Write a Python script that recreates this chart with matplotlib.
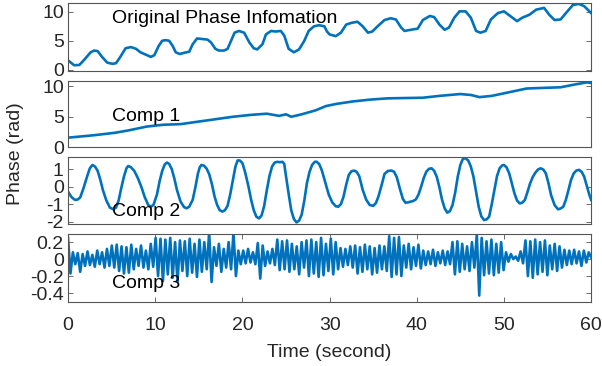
import numpy as np
import matplotlib
matplotlib.use('Agg')
import matplotlib.pyplot as plt

plt.rcParams['font.family'] = ['Liberation Sans', 'DejaVu Sans']
plt.rcParams['axes.unicode_minus'] = False

# original phase (time, value)
t_orig = [0.0, 0.7, 1.3, 1.8, 2.6, 3.0, 3.4, 3.9, 4.5, 5.1, 5.5, 6.0, 6.6, 7.2, 7.8, 8.3, 8.9,
          9.5, 9.9, 10.4, 10.8, 11.2, 11.6, 12.0, 12.35, 12.8, 13.3, 13.9, 14.3, 14.8, 15.4,
          16.0, 16.4, 16.9, 17.3, 17.9, 18.3, 18.7, 19.1, 19.6, 20.2, 20.8, 21.3, 21.7, 22.3,
          22.7, 23.3, 23.8, 24.4, 24.8, 25.3, 25.9, 26.5, 27.1, 27.6, 28.2, 28.8, 29.4, 29.7,
          30.0, 30.7, 31.3, 31.9, 32.5, 33.2, 33.8, 34.4, 34.9, 35.5, 36.3, 37.0, 37.6, 38.2,
          38.6, 39.3, 40.1, 40.7, 41.5, 42.0, 42.6, 43.2, 43.7, 44.3, 44.9, 45.6, 46.2, 46.8,
          47.3, 47.9, 48.5, 49.3, 50.0, 50.8, 51.5, 52.1, 52.9, 53.7, 54.6, 55.2, 55.8, 56.5,
          57.1, 57.9, 58.6, 59.2, 60.0]
orig = [1.6, 0.75, 0.8, 1.6, 3.0, 3.3, 3.2, 2.2, 1.2, 1.0, 1.1, 2.2, 3.7, 3.9, 3.6, 3.0, 2.6,
        2.2, 2.5, 4.1, 5.0, 5.1, 5.0, 4.1, 3.0, 2.7, 2.9, 3.1, 4.4, 5.4, 5.3,
        5.2, 4.7, 3.6, 3.3, 3.3, 3.6, 5.0, 6.4, 6.7, 6.4, 4.7, 3.7, 3.5, 4.4,
        6.1, 6.7, 6.6, 6.7, 5.9, 3.6, 3.0, 3.5, 5.0, 6.7, 7.5, 7.7, 7.5, 6.6,
        6.1, 5.8, 6.4, 7.8, 8.1, 8.3, 7.5, 6.4, 6.6, 7.5, 8.6, 8.9, 8.7, 7.3,
        6.7, 6.9, 7.1, 8.6, 9.3, 9.1, 7.8, 6.9, 7.3, 9.0, 10.1, 10.1, 9.0, 6.7,
        6.4, 6.7, 8.7, 9.8, 10.1, 9.2, 8.4, 9.0, 9.5, 10.4, 10.7, 9.5, 8.6, 8.7,
        9.8, 11.2, 11.4, 11.0, 9.8]

# comp 1 (slow trend)
t_c1 = [0.0, 3.0, 5.4, 7.0, 9.0, 10.9, 12.9, 14.9, 16.9, 18.9, 20.9, 22.8, 24.2, 25.0, 25.6,
        26.8, 28.4, 29.6, 30.8, 32.7, 34.7, 36.7, 38.7, 40.7, 42.6, 45.0, 46.2, 47.2, 48.6,
        50.6, 52.6, 54.5, 56.5, 58.1, 59.5, 60.0]
comp1 = [1.6, 2.0, 2.4, 2.8, 3.4, 3.7, 3.8, 4.2, 4.6, 5.0, 5.3, 5.5, 5.15, 5.4, 5.0,
         5.4, 6.05, 6.75, 7.1, 7.5, 7.8, 8.0, 8.05, 8.1, 8.4, 8.7, 8.55, 8.2, 8.4,
         9.0, 9.6, 9.7, 9.8, 10.25, 10.6, 10.5]

# comp 2 (oscillation)
t_c2 = [0.0, 0.4, 0.8, 1.1, 1.4, 1.8, 2.2, 2.5, 2.8, 3.1, 3.4, 3.7, 4.0, 4.4, 4.8, 5.2, 5.5,
        5.8, 6.1, 6.4, 6.7, 6.9, 7.2, 7.6, 8.0, 8.4, 8.8, 9.2, 9.5, 9.8, 10.2, 10.5, 10.8,
        11.1, 11.35, 11.6, 11.9, 12.2, 12.5, 12.9, 13.3, 13.6, 13.9, 14.3, 14.6, 14.9, 15.1,
        15.3, 15.6, 15.9, 16.2, 16.5, 16.8, 17.1, 17.4, 17.7, 18.0, 18.3, 18.6, 18.9, 19.2,
        19.45, 19.7, 20.0, 20.3, 20.7, 21.0, 21.3, 21.6, 21.9, 22.2, 22.5, 22.8, 23.1, 23.4,
        23.7, 24.0, 24.3, 24.6, 24.8, 25.0, 25.3, 25.6, 25.9, 26.2, 26.5, 26.8, 27.1, 27.4,
        27.7, 28.0, 28.3, 28.5, 28.8, 29.1, 29.5, 29.9, 30.3, 30.7, 31.0, 31.3, 31.6, 31.9,
        32.2, 32.5, 32.8, 33.1, 33.4, 33.8, 34.2, 34.6, 35.0, 35.3, 35.6, 36.0, 36.3, 36.7,
        37.1, 37.4, 37.7, 38.1, 38.4, 38.7, 39.0, 39.3, 39.6, 39.9, 40.2, 40.5, 40.8, 41.1,
        41.4, 41.7, 42.0, 42.3, 42.6, 42.9, 43.2, 43.5, 43.8, 44.1, 44.4, 44.7, 45.0, 45.3,
        45.6, 45.9, 46.2, 46.5, 46.8, 47.1, 47.4, 47.7, 48.0, 48.3, 48.6, 48.9, 49.2, 49.5,
        49.8, 50.0, 50.3, 50.6, 50.9, 51.2, 51.5, 51.8, 52.1, 52.4, 52.7, 53.0, 53.3, 53.6,
        53.9, 54.2, 54.5, 54.8, 55.1, 55.4, 55.8, 56.2, 56.5, 56.8, 57.1, 57.4, 57.7, 58.0,
        58.3, 58.6, 58.9, 59.2, 59.5, 59.8, 60.0]
comp2 = [-0.29, -0.6, -0.76, -0.74, -0.62, -0.05, 0.6, 1.05, 1.24, 1.15, 0.9, 0.4, -0.2, -0.8,
         -1.2, -1.3, -1.2, -0.8, -0.1, 0.55, 1.05, 1.18, 1.12, 0.9, 0.5, 0.0, -0.6, -1.05,
         -1.15, -1.05, -0.45, 0.3, 0.9, 1.28, 1.38, 1.3, 1.0, 0.45, -0.2, -0.85, -1.17, -1.24,
         -1.15, -0.75, -0.05, 0.75, 1.1, 1.24, 1.2, 1.03, 0.7, 0.15, -0.55, -1.05, -1.35,
         -1.43, -1.35, -1.1, -0.45, 0.35, 1.15, 1.5, 1.5, 1.35, 0.85, 0.0, -0.75, -1.35,
         -1.72, -1.82, -1.65, -1.1, -0.2, 0.6, 1.15, 1.38, 1.42, 1.4, 1.42, 1.3, 0.6, -0.4,
         -1.35, -1.85, -2.05, -1.95, -1.6, -0.8, 0.2, 0.85, 1.25, 1.42, 1.43, 1.3, 0.95, 0.25,
         -0.45, -0.9, -1.12, -1.15, -1.0, -0.57, 0.1, 0.67, 0.88, 0.92, 0.85, 0.6, -0.19,
         -0.75, -1.05, -1.1, -0.95, -0.57, 0.15, 0.73, 0.9, 0.92, 0.85, 0.55, -0.19, -0.7,
         -0.92, -0.9, -0.86, -0.82, -0.73, -0.45, 0.0, 0.5, 0.86, 1.02, 1.05, 0.9, 0.55,
         -0.05, -0.76, -1.25, -1.49, -1.4, -1.05, -0.35, 0.57, 1.25, 1.6, 1.62, 1.5, 1.15,
         0.57, -0.3, -1.15, -1.7, -1.91, -1.88, -1.72, -1.0, -0.2, 0.6, 1.05, 1.22, 1.24, 1.1,
         0.76, 0.2, -0.38, -0.8, -0.96, -0.92, -0.76, -0.3, 0.19, 0.55, 0.8, 0.98, 1.05, 0.98,
         0.76, 0.2, -0.48, -1.05, -1.3, -1.25, -1.15, -0.75, -0.19, 0.4, 0.76, 0.92, 0.96,
         0.85, 0.57, 0.05, -0.48, -0.76]

# comp 3 (fast oscillation), sampled evenly over 0-60 s
comp3 = [0.25, -0.17, 0.08, -0.06, 0.07, -0.15, 0.06, -0.08, 0.09, -0.07, 0.05, -0.09, 0.10, -0.06, 0.08, -0.10, 0.12, -0.08,
         0.16, -0.10, 0.17, -0.14, 0.15, -0.17, 0.14, -0.16, 0.17, -0.12, 0.12, -0.08, 0.16, -0.10, 0.10, -0.12, 0.18, -0.09,
         0.25, -0.20, 0.24, -0.26, 0.23, -0.18, 0.25, -0.22, 0.20, -0.27, 0.22, -0.14, 0.21, -0.20, 0.24, -0.16, 0.18, -0.21,
         0.23, -0.15, 0.20, -0.12, 0.31, -0.27, 0.14, -0.08, 0.18, -0.15, 0.12, -0.10, 0.20, -0.12, 0.31, -0.20, 0.10, -0.06,
         0.10, -0.05, 0.12, -0.04, 0.08, -0.06, 0.19, -0.23, 0.16, -0.08, 0.09, -0.05, 0.12, -0.07, 0.23, -0.13, 0.21, -0.12,
         0.22, -0.15, 0.18, -0.12, 0.15, -0.18, 0.20, -0.10, 0.22, -0.20, 0.23, -0.17, 0.20, -0.21, 0.25, -0.19, 0.18, -0.14,
         0.24, -0.18, 0.20, -0.12, 0.13, -0.09, 0.12, -0.07, 0.15, -0.10, 0.16, -0.17, 0.14, -0.15, 0.17, -0.12, 0.15, -0.18,
         0.13, -0.16, 0.16, -0.12, 0.15, -0.14, 0.27, -0.21, 0.25, -0.18, 0.26, -0.20, 0.16, -0.10, 0.18, -0.12, 0.14, -0.08,
         0.17, -0.11, 0.10, -0.07, 0.09, -0.06, 0.11, -0.08, 0.08, -0.05, 0.10, -0.07, 0.09, -0.06, 0.20, -0.18, 0.21, -0.15,
         0.18, -0.12, 0.15, -0.14, 0.20, -0.10, 0.29, -0.43, 0.25, -0.19, 0.21, -0.17, 0.23, -0.19, 0.18, -0.16, 0.20, -0.13,
         0.08, -0.03, 0.06, 0.00, 0.03, -0.02, 0.09, -0.05, 0.22, -0.20, 0.21, -0.22, 0.23, -0.18, 0.20, -0.15, 0.22, -0.19,
         0.16, -0.12, 0.18, -0.14, 0.15, -0.10, 0.11, -0.07, 0.10, -0.06, 0.11, -0.05, 0.09, -0.08, 0.10, -0.04, 0.08, 0.02]
t_c3 = np.linspace(0, 60, len(comp3))

labels = ['Original Phase Infomation', 'Comp 1', 'Comp 2', 'Comp 3']
label_y = [8.8, 5.0, -1.43, -0.29]
ylims = [(-0.2, 11.5), (0, 10.9), (-2.14, 1.68), (-0.5, 0.29)]
yticks = [[0, 5, 10], [0, 5, 10], [-2, -1, 0, 1], [-0.4, -0.2, 0, 0.2]]
ytick_lbl = [['0', '5', '10'], ['0', '5', '10'], ['-2', '-1', '0', '1'],
             ['-0.4', '-0.2', '0', '0.2']]

series = [(t_orig, orig), (t_c1, comp1), (t_c2, comp2), (t_c3, comp3)]

fig = plt.figure(figsize=(6.02, 3.66), dpi=100)
boxes = [(0.113, 0.8068, 0.869, 0.1842),
         (0.113, 0.597, 0.869, 0.183),
         (0.113, 0.388, 0.869, 0.1822),
         (0.113, 0.1762, 0.869, 0.1831)]

blue = '#0072BD'
for i in range(4):
    ax = fig.add_axes(boxes[i])
    x, y = series[i]
    ax.plot(x, y, color=blue, lw=1.9)
    ax.set_xlim(0, 60)
    ax.set_ylim(*ylims[i])
    ax.set_yticks(yticks[i])
    ax.set_yticklabels(ytick_lbl[i])
    ax.text(5.0, label_y[i], labels[i], fontsize=14, va='center', ha='left', color='black')
    for s in ax.spines.values():
        s.set_color('#555555')
        s.set_linewidth(0.8)
    ax.tick_params(direction='in', right=True, length=3.5, width=0.6, color='#555555',
                   labelsize=14, labelcolor='#262626', pad=3)
    if i < 3:
        ax.set_xticks([])
    else:
        ax.set_xticks([0, 10, 20, 30, 40, 50, 60])
        ax.tick_params(axis='x', top=True, pad=11)
        ax.set_xlabel('Time (second)', fontsize=14, color='#262626', labelpad=7)

fig.text(0.025, 0.58, 'Phase (rad)', rotation=90, fontsize=14, color='#262626',
         va='center', ha='center')

fig.savefig('out.png', dpi=100)
